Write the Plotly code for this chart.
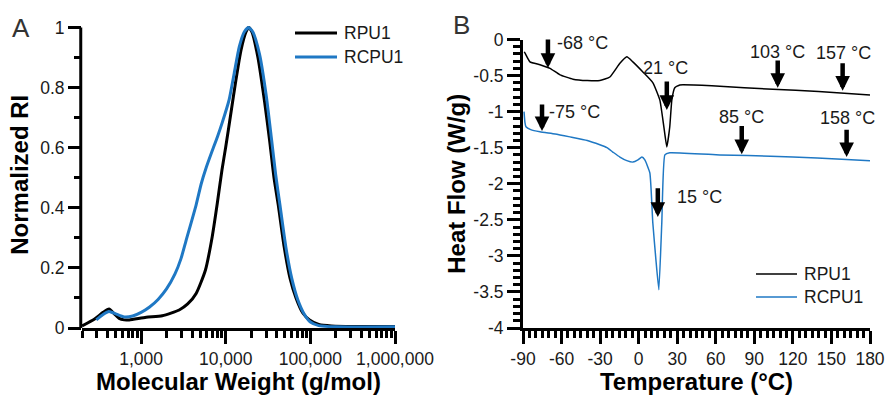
import plotly.graph_objects as go

# ---------------- Panel A data (GPC) ----------------
mw_rpu1 = [200, 282, 355, 417, 479, 550, 631, 724, 1148, 1778, 2818, 3548, 4467, 5754,
           6918, 7943, 9016, 10000, 11482, 13183, 15136, 17378, 18621, 20417, 23988,
           28840, 33113, 37154, 41687, 48978, 57544, 67608, 81283, 97724, 125893, 177828,
           398107, 1000000]
ri_rpu1 = [0.007, 0.03, 0.052, 0.063, 0.048, 0.032, 0.027, 0.027, 0.036, 0.041, 0.06, 0.08,
           0.115, 0.193, 0.304, 0.415, 0.526, 0.603, 0.714, 0.825, 0.925, 0.986, 1.0, 0.985,
           0.90, 0.75, 0.62, 0.50, 0.41, 0.27, 0.165, 0.10, 0.05, 0.027, 0.012, 0.007,
           0.005, 0.005]

mw_rcpu1 = [295, 355, 417, 501, 631, 794, 1000, 1259, 1585, 1995, 2512, 2951, 3388, 4467,
            5129, 5888, 6918, 7943, 9120, 10965, 12589, 14454, 16596, 18621, 20893, 25119,
            30200, 34674, 38905, 43652, 51286, 60256, 70795, 85114, 100000, 125893, 199526,
            1000000]
ri_rcpu1 = [0.027, 0.045, 0.055, 0.047, 0.037, 0.040, 0.052, 0.07, 0.095, 0.13, 0.18, 0.23,
            0.29, 0.41, 0.48, 0.535, 0.59, 0.635, 0.685, 0.76, 0.848, 0.936, 0.986, 1.0,
            0.985, 0.91, 0.77, 0.63, 0.51, 0.41, 0.27, 0.165, 0.095, 0.045, 0.02, 0.008,
            0.004, 0.004]

a_xtick_vals = [1000, 10000, 100000, 1000000]
a_xtick_text = ["1,000", "10,000", "100,000", "1,000,000"]
a_ytick_vals = [0, 0.2, 0.4, 0.6, 0.8, 1.0]
a_ytick_text = ["0", "0.2", "0.4", "0.6", "0.8", "1"]

# ---------------- Panel B data (DSC) ----------------
t_rpu1 = [-89, -88.4, -84.6, -76.8, -69, -61.2, -51.1, -40, -30.2, -22.4, -14.6, -9.2, -4.5,
          3.3, 11.1, 16.5, 19.6, 21.9, 24.2, 25.8, 28.1, 32, 60, 104.3, 140, 180]
hf_rpu1 = [-0.17, -0.19, -0.31, -0.35, -0.40, -0.49, -0.55, -0.57, -0.57, -0.52, -0.33, -0.24,
           -0.31, -0.45, -0.60, -0.84, -1.21, -1.49, -1.21, -0.84, -0.67, -0.63, -0.645,
           -0.69, -0.72, -0.77]

t_rcpu1 = [-89.2, -88.5, -87.7, -84, -76.8, -65, -53.5, -40, -30.2, -24.7, -20.1, -14.6, -9.2,
           -4.5, -0.6, 2.5, 4.8, 8.7, 11.0, 13.4, 15.7, 18.0, 20.4, 24.2, 63.1, 85, 120, 158, 180]
hf_rcpu1 = [-1.0, -1.15, -1.21, -1.25, -1.28, -1.31, -1.35, -1.40, -1.46, -1.50, -1.56, -1.63,
            -1.68, -1.70, -1.67, -1.63, -1.67, -1.85, -2.54, -3.05, -3.47, -2.54, -1.60, -1.57,
            -1.60, -1.61, -1.63, -1.66, -1.68]

b_xtick_vals = [-90, -60, -30, 0, 30, 60, 90, 120, 150, 180]
b_xtick_text = ["-90", "-60", "-30", "0", "30", "60", "90", "120", "150", "180"]
b_ytick_vals = [0, -0.5, -1, -1.5, -2, -2.5, -3, -3.5, -4]
b_ytick_text = ["0", "-0.5", "-1", "-1.5", "-2", "-2.5", "-3", "-3.5", "-4"]

# Transition labels
transition_labels = ["-68 °C", "21 °C", "103 °C", "157 °C", "-75 °C", "85 °C", "158 °C", "15 °C"]
arrow_x = [-70.6, 21.9, 108.2, 158.7, -75.2, 80.2, 161.8, 14.9]
arrow_tip = [-0.395, -0.976, -0.67, -0.71, -1.27, -1.59, -1.63, -2.46]
arrow_tail = [0.02, -0.56, -0.27, -0.31, -0.88, -1.18, -1.23, -2.04]
label_x = [-65.1, 20.8, 108.2, 159.5, -71.3, 79.8, 162.2, 28.1]
label_y = [-0.05, -0.395, -0.17, -0.19, -1.0, -1.07, -1.09, -2.18]
label_anchor = ["left", "center", "center", "center", "left", "center", "center", "left"]

series_names = ["RPU1", "RCPU1"]

BLACK = "#000000"
BLUE = "#1f78c4"
FONT = "Arial, Liberation Sans, sans-serif"
TXT = "#1a1a1a"

fig = go.Figure()

fig.add_trace(go.Scatter(x=mw_rpu1, y=ri_rpu1, mode="lines", name=series_names[0],
                         line=dict(color=BLACK, width=3, shape="spline", smoothing=0.6),
                         xaxis="x", yaxis="y", showlegend=False))
fig.add_trace(go.Scatter(x=mw_rcpu1, y=ri_rcpu1, mode="lines", name=series_names[1],
                         line=dict(color=BLUE, width=3, shape="spline", smoothing=0.6),
                         xaxis="x", yaxis="y", showlegend=False))
fig.add_trace(go.Scatter(x=t_rpu1, y=hf_rpu1, mode="lines", name=series_names[0],
                         line=dict(color=BLACK, width=1.5, shape="spline", smoothing=0.4),
                         xaxis="x2", yaxis="y2", showlegend=False))
fig.add_trace(go.Scatter(x=t_rcpu1, y=hf_rcpu1, mode="lines", name=series_names[1],
                         line=dict(color=BLUE, width=1.5, shape="spline", smoothing=0.4),
                         xaxis="x2", yaxis="y2", showlegend=False))

W, H = 886, 395

def px(xp):
    return xp / W

def py(yp):
    return (H - yp) / H

tickfont = dict(family=FONT, size=17.5, color=TXT)
titlefont = dict(family=FONT, size=24, color=BLACK, weight="bold")

a_minor = [m * 10 ** e for e in range(2, 6) for m in range(2, 10) if m * 10 ** e >= 200]
b_xminor = [v for v in range(-90, 181, 5) if v % 30 != 0]
a_yminor = [0.1, 0.3, 0.5, 0.7, 0.9]
b_yminor = [round(-0.1 * i, 1) for i in range(0, 41) if i % 5 != 0]

common = dict(ticks="outside", tickwidth=3, tickcolor=BLACK, showgrid=False,
              zeroline=False, automargin=False, tickfont=tickfont, ticklen=13)
minor_common = dict(ticks="outside", ticklen=7, tickwidth=2.5, tickcolor=BLACK, showgrid=False)

fig.update_layout(
    width=W, height=H,
    margin=dict(l=0, r=0, t=0, b=0, autoexpand=False),
    paper_bgcolor="white", plot_bgcolor="white",
    font=dict(family=FONT, color=TXT),
    xaxis=dict(type="log", domain=[px(82), px(395)], range=[2.30103, 6], anchor="y",
               tickvals=a_xtick_vals, ticktext=a_xtick_text,
               showline=True, linewidth=3, linecolor=BLACK,
               minor=dict(tickvals=a_minor, **minor_common),
               title=dict(text="Molecular Weight (g/mol)", font=titlefont, standoff=0),
               **common),
    yaxis=dict(domain=[py(328), py(21.5)], range=[0, 1.02], anchor="x",
               tickvals=a_ytick_vals, ticktext=a_ytick_text, showline=False,
               minor=dict(tickvals=a_yminor, **minor_common),
               title=dict(text="Normalized RI", font=titlefont, standoff=4),
               **common),
    xaxis2=dict(domain=[px(523), px(870)], range=[-90, 180], anchor="y2",
                tickvals=b_xtick_vals, ticktext=b_xtick_text,
                showline=True, linewidth=3, linecolor=BLACK,
                minor=dict(tickvals=b_xminor, **minor_common),
                title=dict(text="Temperature (°C)", font=titlefont, standoff=0),
                **common),
    yaxis2=dict(domain=[py(328), py(39.5)], range=[-4, 0], anchor="x2",
                tickvals=b_ytick_vals, ticktext=b_ytick_text,
                showline=True, linewidth=3, linecolor=BLACK,
                minor=dict(tickvals=b_yminor, **minor_common),
                title=dict(text="Heat Flow (W/g)", font=titlefont, standoff=1),
                **common),
)

# y-axis line for panel A (ending at 1)
fig.add_shape(type="line", xref="x domain", yref="y", x0=-0.004, x1=-0.004, y0=-0.006, y1=1.0,
              line=dict(color=BLACK, width=3))

annotations = []
annotations.append(dict(text="A", xref="paper", yref="paper", x=px(10), y=py(28),
                        xanchor="left", yanchor="middle", showarrow=False,
                        font=dict(family=FONT, size=26, color="#333333")))
annotations.append(dict(text="B", xref="paper", yref="paper", x=px(451), y=py(25),
                        xanchor="left", yanchor="middle", showarrow=False,
                        font=dict(family=FONT, size=26, color="#333333")))

# legends drawn as line samples + labels
legend_a_y = [33, 57]
legend_b_y = [274, 297]
legend_colors = [BLACK, BLUE]
for i, name in enumerate(series_names):
    fig.add_shape(type="line", xref="paper", yref="paper", x0=px(295), x1=px(337),
                  y0=py(legend_a_y[i]), y1=py(legend_a_y[i]),
                  line=dict(color=legend_colors[i], width=3))
    annotations.append(dict(text=name, xref="paper", yref="paper", x=px(342),
                            y=py(legend_a_y[i]), xanchor="left", yanchor="middle",
                            showarrow=False, font=dict(family=FONT, size=17.5, color=TXT)))
    fig.add_shape(type="line", xref="paper", yref="paper", x0=px(756), x1=px(797),
                  y0=py(legend_b_y[i]), y1=py(legend_b_y[i]),
                  line=dict(color=legend_colors[i], width=1.5))
    annotations.append(dict(text=name, xref="paper", yref="paper", x=px(802),
                            y=py(legend_b_y[i]), xanchor="left", yanchor="middle",
                            showarrow=False, font=dict(family=FONT, size=17.5, color=TXT)))

for i in range(len(transition_labels)):
    annotations.append(dict(x=arrow_x[i], y=arrow_tip[i], ax=arrow_x[i], ay=arrow_tail[i],
                            xref="x2", yref="y2", axref="x2", ayref="y2", text="",
                            showarrow=True, arrowhead=2, arrowsize=0.65, arrowwidth=4.5,
                            arrowcolor=BLACK))
    annotations.append(dict(x=label_x[i], y=label_y[i], xref="x2", yref="y2",
                            text=transition_labels[i], showarrow=False,
                            xanchor=label_anchor[i], yanchor="middle",
                            font=dict(family=FONT, size=18, color=TXT)))

fig.update_layout(annotations=annotations)

fig.write_html("out.html", config={"displayModeBar": False},
               post_script="document.body.style.margin='0';document.body.style.overflow='hidden';")
